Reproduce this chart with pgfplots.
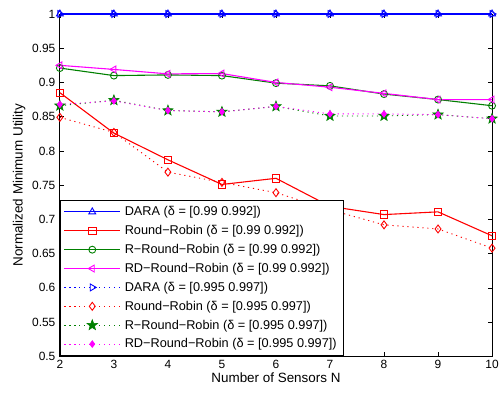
\documentclass[border=0pt]{standalone}
\usepackage{pgfplots}
\pgfplotsset{compat=1.18}
\usepackage{fontspec}
\setmainfont{Liberation Sans}
\usetikzlibrary{plotmarks}
\definecolor{mblue}{RGB}{0,0,255}
\definecolor{mred}{RGB}{255,0,0}
\definecolor{mgreen}{RGB}{0,128,0}
\definecolor{mmag}{RGB}{255,0,255}
\tikzset{mdot/.style={dash pattern=on 1.2bp off 3.8bp}}
\pgfdeclareplotmark{fstar}{%
  \pgfpathmoveto{\pgfpointpolar{90}{\pgfplotmarksize}}%
  \pgfpathlineto{\pgfpointpolar{126}{0.42\pgfplotmarksize}}%
  \pgfpathlineto{\pgfpointpolar{162}{\pgfplotmarksize}}%
  \pgfpathlineto{\pgfpointpolar{198}{0.42\pgfplotmarksize}}%
  \pgfpathlineto{\pgfpointpolar{234}{\pgfplotmarksize}}%
  \pgfpathlineto{\pgfpointpolar{270}{0.42\pgfplotmarksize}}%
  \pgfpathlineto{\pgfpointpolar{306}{\pgfplotmarksize}}%
  \pgfpathlineto{\pgfpointpolar{342}{0.42\pgfplotmarksize}}%
  \pgfpathlineto{\pgfpointpolar{18}{\pgfplotmarksize}}%
  \pgfpathlineto{\pgfpointpolar{54}{0.42\pgfplotmarksize}}%
  \pgfpathclose
  \pgfusepathqfillstroke}
\begin{document}
\begin{tikzpicture}[x=1bp,y=1bp]
\path (0,0) rectangle (502,395);
\begin{axis}[
  at={(60bp,38bp)}, anchor=south west,
  scale only axis, width=433bp, height=343bp,
  xmin=2, xmax=10, ymin=0.5, ymax=1,
  xtick={2,3,...,10},
  ytick={0.5,0.55,...,1.001},
  yticklabels={0.5,0.55,0.6,0.65,0.7,0.75,0.8,0.85,0.9,0.95,1},
  tick align=inside, tick pos=both,
  major tick length=4bp,
  axis line style={line width=0.8pt},
  tick style={line width=0.6pt, black},
  tick label style={font=\fontsize{12}{14}\selectfont},
  yticklabel style={xshift=-1bp},
  /pgf/number format/assume math mode=true,
  xlabel={Number of Sensors N},
  ylabel={Normalized Minimum Utility},
  label style={font=\fontsize{13.5}{15}\selectfont},
  xlabel style={yshift=2bp},
  ylabel style={yshift=0bp},
  clip=false,
  legend style={at={(0.5bp,0.5bp)}, anchor=south west, font=\fontsize{12.8}{14}\selectfont,
    draw=black, line width=0.8pt, row sep=4.2bp, inner xsep=3bp, inner ysep=4bp, fill=white,
    cells={anchor=west}, nodes={inner xsep=4bp}},
  legend cell align=left,
  legend image code/.code={
    \draw[mark repeat=2,mark phase=2,#1] plot coordinates {(0bp,0bp) (28bp,0bp) (56bp,0bp)};},
]
\addplot[mblue, line width=1.1pt, mark=triangle, mark size=4pt, mark options={solid, draw=mblue, line width=0.9pt}] coordinates {(2,1)(3,1)(4,1)(5,1)(6,1)(7,1)(8,1)(9,1)(10,1)};
\addlegendentry{DARA (δ = [0.99 0.992])}
\addplot[mred, line width=1.1pt, mark=square, mark size=3.7pt, mark options={solid, draw=mred, line width=0.9pt}] coordinates {(2,0.885)(3,0.826)(4,0.787)(5,0.751)(6,0.760)(7,0.719)(8,0.707)(9,0.711)(10,0.676)};
\addlegendentry{Round−Robin (δ = [0.99 0.992])}
\addplot[mgreen, line width=1.1pt, mark=o, mark size=3.5pt, mark options={solid, draw=mgreen, line width=0.9pt}] coordinates {(2,0.921)(3,0.910)(4,0.911)(5,0.910)(6,0.899)(7,0.895)(8,0.883)(9,0.875)(10,0.866)};
\addlegendentry{R−Round−Robin (δ = [0.99 0.992])}
\addplot[mmag, line width=1.1pt, mark=triangle, mark size=4pt, mark options={solid, rotate=90, draw=mmag, line width=0.9pt}] coordinates {(2,0.925)(3,0.919)(4,0.9125)(5,0.913)(6,0.900)(7,0.893)(8,0.884)(9,0.875)(10,0.875)};
\addlegendentry{RD−Round−Robin (δ = [0.99 0.992])}
\addplot[mblue, line width=0.9pt, mdot, mark=triangle, mark size=4pt, mark options={solid, rotate=-90, draw=mblue}] coordinates {(2,1)(3,1)(4,1)(5,1)(6,1)(7,1)(8,1)(9,1)(10,1)};
\addlegendentry{DARA (δ = [0.995 0.997])}
\addplot[mred, line width=0.9pt, mdot, mark=diamond, mark size=4pt, mark options={solid, draw=mred}] coordinates {(2,0.849)(3,0.827)(4,0.769)(5,0.754)(6,0.739)(7,0.714)(8,0.692)(9,0.686)(10,0.658)};
\addlegendentry{Round−Robin (δ = [0.995 0.997])}
\addplot[mgreen, line width=0.9pt, mdot, mark=fstar, mark size=5.5pt, mark options={solid, draw=mgreen, fill=mgreen, line width=0.6pt}] coordinates {(2,0.866)(3,0.874)(4,0.859)(5,0.857)(6,0.865)(7,0.851)(8,0.851)(9,0.853)(10,0.847)};
\addlegendentry{R−Round−Robin (δ = [0.995 0.997])}
\addplot[mmag, line width=0.9pt, mdot, mark=diamond*, mark size=3.2pt, mark options={solid, draw=mmag, fill=mmag}] coordinates {(2,0.868)(3,0.873)(4,0.859)(5,0.857)(6,0.865)(7,0.854)(8,0.854)(9,0.853)(10,0.847)};
\addlegendentry{RD−Round−Robin (δ = [0.995 0.997])}
\end{axis}
\end{tikzpicture}
\end{document}
